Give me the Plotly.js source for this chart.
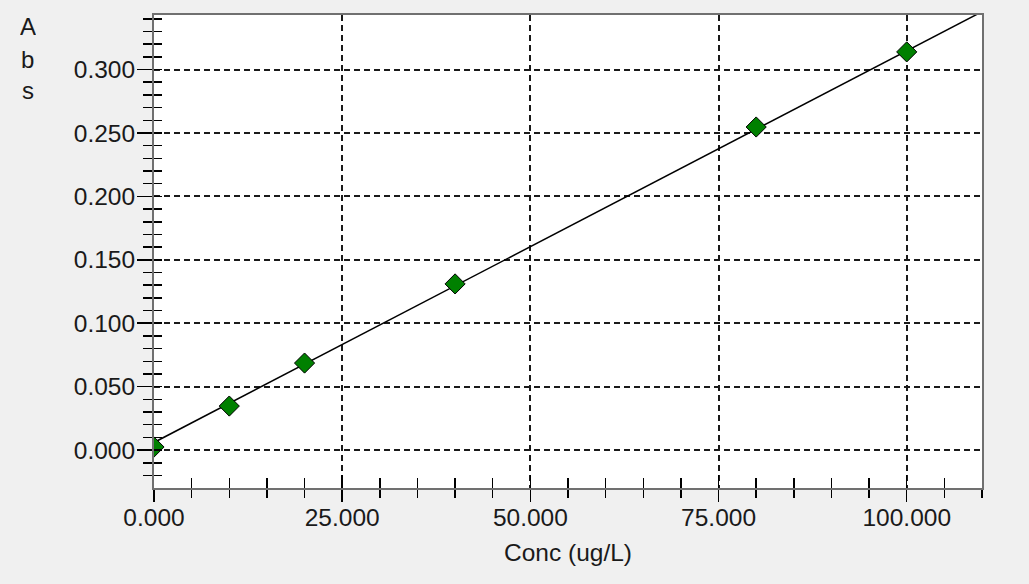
<!DOCTYPE html>
<html>
<head>
<meta charset="utf-8">
<script src="https://cdn.plot.ly/plotly-3.0.1.min.js"></script>
<style>
html,body{margin:0;padding:0;background:#f0f0f0;}
#chart{width:1029px;height:584px;}
</style>
</head>
<body>
<div id="chart"></div>
<script>
// Calibration standards
var concX = [0, 10, 20, 40, 80, 100];
var absY = [0.0024, 0.0347, 0.0686, 0.131, 0.2547, 0.3139];
// Calibration fit line
var fitX = [0, 110];
var fitY = [0.006, 0.3456];
// Axis labels
var xTitle = 'Conc (ug/L)';
var yTitleLetters = ['A', 'b', 's'];

var FONT = "'Liberation Sans', Arial, sans-serif";
var FS = 24.5;

var traces = [
  {
    x: fitX, y: fitY, type: 'scatter', mode: 'lines',
    xaxis: 'x', yaxis: 'y',
    line: {color: '#000000', width: 1.5},
    hoverinfo: 'skip', showlegend: false
  },
  {
    x: concX, y: absY, type: 'scatter', mode: 'markers',
    xaxis: 'x2', yaxis: 'y2',
    marker: {symbol: 'diamond', size: 15.5, color: '#008000', line: {color: '#000000', width: 1}},
    showlegend: false
  }
];

var common = {
  showline: true, linecolor: '#707070', linewidth: 2, mirror: true,
  zeroline: false, tickcolor: '#000000', tickwidth: 1.5,
  tickfont: {family: FONT, size: FS, color: '#1a1a1a'}
};

var layout = {
  width: 1029, height: 584,
  paper_bgcolor: '#f0f0f0', plot_bgcolor: '#ffffff',
  margin: {l: 154, r: 47, t: 15, b: 96},
  showlegend: false,
  xaxis: Object.assign({}, common, {
    range: [0, 110], tick0: 0, dtick: 25, tickformat: '.3f',
    ticks: 'outside', ticklen: 12, ticklabelstandoff: -5,
    minor: {dtick: 5, tick0: 0, ticks: 'outside', ticklen: 8, tickcolor: '#000000', tickwidth: 1.5, showgrid: false},
    showgrid: true, gridcolor: '#1a1a1a', gridwidth: 2, griddash: '6px,4px',
    title: {text: xTitle, font: {family: FONT, size: FS, color: '#1a1a1a'}, standoff: 13}
  }),
  yaxis: Object.assign({}, common, {
    range: [-0.0299, 0.343], tick0: 0, dtick: 0.05, tickformat: '.3f',
    ticks: 'outside', ticklen: 15, ticklabelstandoff: -3,
    minor: {dtick: 0.01, tick0: 0, ticks: 'outside', ticklen: 9, tickcolor: '#000000', tickwidth: 1.5, showgrid: false},
    showgrid: true, gridcolor: '#1a1a1a', gridwidth: 2, griddash: '6px,4px'
  }),
  xaxis2: {
    overlaying: 'x', anchor: 'y2', side: 'bottom',
    range: [0, 110], tick0: 0, dtick: 25, ticks: 'inside', ticklen: 13,
    tickcolor: '#000000', tickwidth: 1.5,
    minor: {dtick: 5, tick0: 0, ticks: 'inside', ticklen: 10, tickcolor: '#000000', tickwidth: 1.5, showgrid: false},
    showticklabels: false, showgrid: false, zeroline: false, showline: false
  },
  yaxis2: {
    overlaying: 'y', anchor: 'x2', side: 'left',
    range: [-0.0299, 0.343], tick0: 0, dtick: 0.05, ticks: 'inside', ticklen: 8,
    tickcolor: '#000000', tickwidth: 1.5,
    minor: {dtick: 0.01, tick0: 0, ticks: 'inside', ticklen: 8, tickcolor: '#000000', tickwidth: 1.5, showgrid: false},
    showticklabels: false, showgrid: false, zeroline: false, showline: false
  },
  annotations: [
    {text: yTitleLetters[0], xref: 'paper', yref: 'paper', x: -0.1522, y: 0.976, xanchor: 'center', yanchor: 'middle', height: 26, showarrow: false, font: {family: FONT, size: 24, color: '#1a1a1a'}},
    {text: yTitleLetters[1], xref: 'paper', yref: 'paper', x: -0.1522, y: 0.906, xanchor: 'center', yanchor: 'middle', height: 26, showarrow: false, font: {family: FONT, size: 24, color: '#1a1a1a'}},
    {text: yTitleLetters[2], xref: 'paper', yref: 'paper', x: -0.1522, y: 0.8414, xanchor: 'center', yanchor: 'middle', height: 26, showarrow: false, font: {family: FONT, size: 24, color: '#1a1a1a'}}
  ]
};

Plotly.newPlot('chart', traces, layout, {displayModeBar: false, staticPlot: true});
</script>
</body>
</html>
